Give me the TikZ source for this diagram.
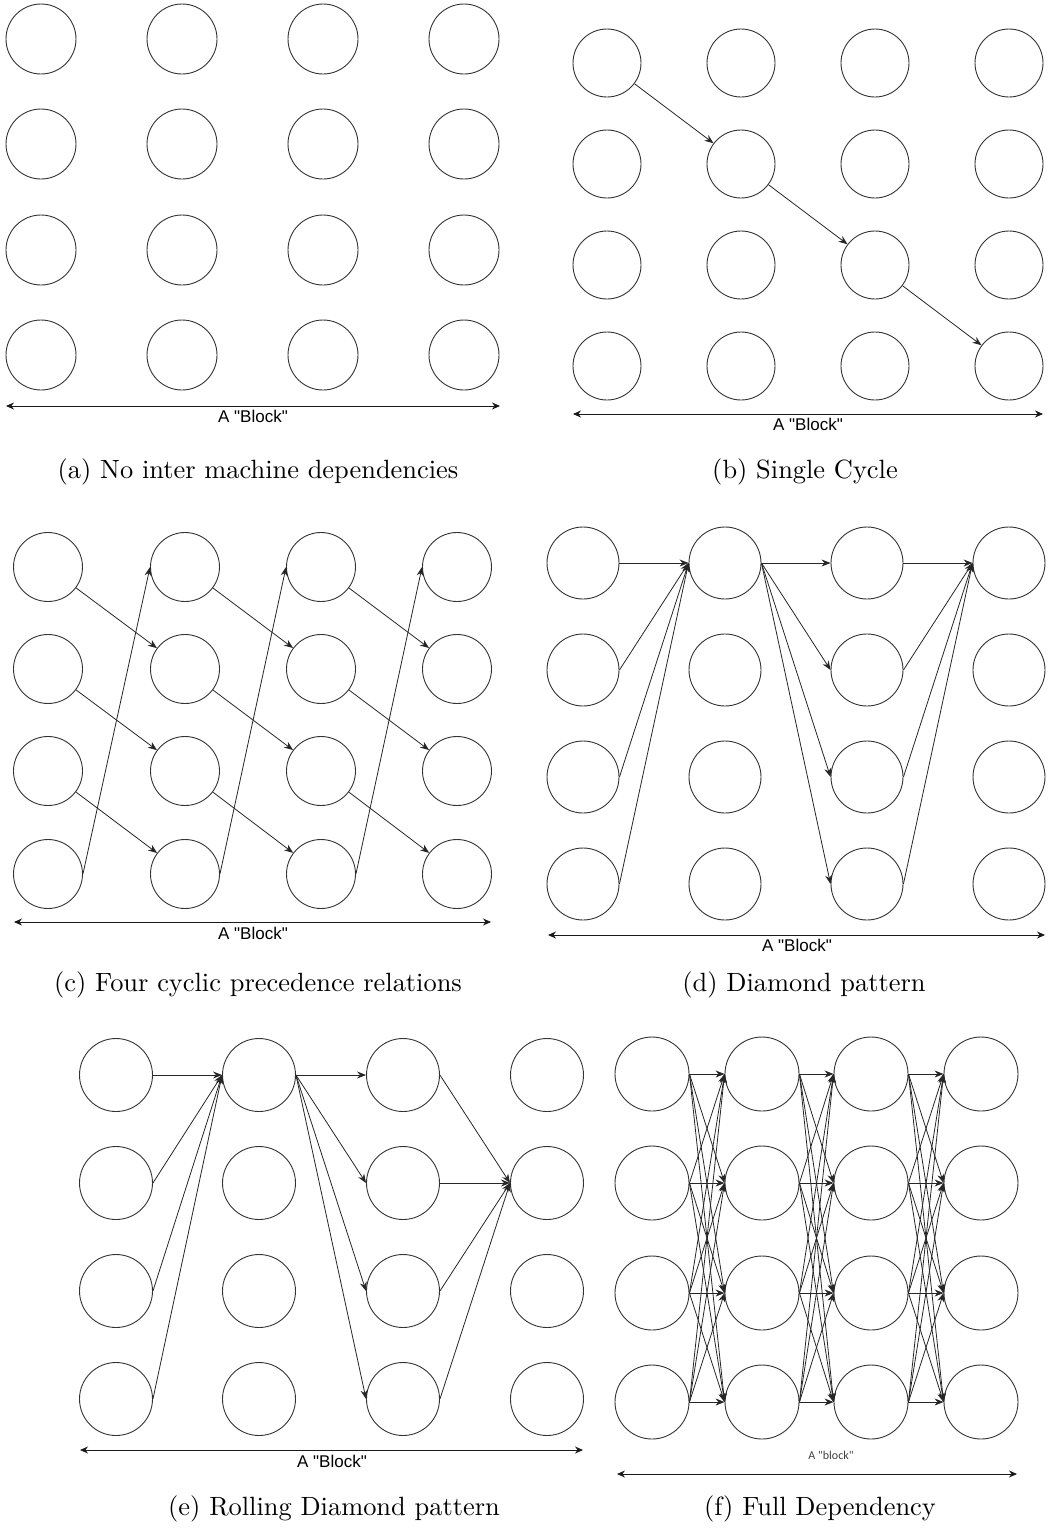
\documentclass[tikz,border=0pt]{standalone}
\usepackage{fontspec}
\newfontfamily\arialfont{Liberation Sans}
\newfontfamily\calfont{Carlito}
\newfontfamily\capfont{lmroman10-regular.otf}
\usetikzlibrary{arrows.meta}
\begin{document}
\begin{tikzpicture}[x=1pt,y=-1pt,
  mach/.style={circle,draw=black!80,line width=0.9pt,inner sep=0pt,minimum size=#1},
  dep/.style={-{Stealth[length=9pt,width=7pt]},line width=0.8pt,draw=black!85},
  blockline/.style={{Stealth[length=8pt,width=7pt]}-{Stealth[length=8pt,width=7pt]},line width=0.9pt,draw=black!90},
  blocklabel/.style={font=\arialfont\fontsize{17}{20}\selectfont,inner sep=0pt},
  smalllabel/.style={font=\calfont\fontsize{12}{14}\selectfont,text=black!75,inner sep=0pt},
  caption/.style={font=\capfont\fontsize{26.4}{30}\selectfont,inner sep=0pt}]
\useasboundingbox (0,0) rectangle (1049,1529);

% ---------- (a) ----------
\foreach \c/\x in {0/41,1/182,2/323,3/464}
  \foreach \r/\y in {0/39,1/144,2/250,3/355}
    \node[mach=70pt] (a\r\c) at (\x,\y) {};
\coordinate (aL) at (6,406); \coordinate (aR) at (500,406);
\draw[blockline] (aL) -- (aR);
\node[blocklabel] (ablk) at (253,416) {A "Block"};
\node[caption] (acap) at (258,472) {(a) No inter machine dependencies};

% ---------- (b) ----------
\foreach \c/\x in {0/607,1/741,2/875,3/1009}
  \foreach \r/\y in {0/63,1/164,2/265,3/366}
    \node[mach=68pt] (b\r\c) at (\x,\y) {};
\draw[dep] (b00) -- (b11);
\draw[dep] (b11) -- (b22);
\draw[dep] (b22) -- (b33);
\coordinate (bL) at (573,414); \coordinate (bR) at (1043,414);
\draw[blockline] (bL) -- (bR);
\node[blocklabel] (bblk) at (808,424) {A "Block"};
\node[caption] (bcap) at (805,472) {(b) Single Cycle};

% ---------- (c) ----------
\foreach \c/\x in {0/48,1/185,2/321,3/457}
  \foreach \r/\y in {0/567,1/669,2/771,3/874}
    \node[mach=69pt] (c\r\c) at (\x,\y) {};
\foreach \c [evaluate=\c as \cn using int(\c+1)] in {0,1,2} {
  \foreach \r [evaluate=\r as \rn using int(\r+1)] in {0,1,2}
    \draw[dep] (c\r\c) -- (c\rn\cn);
  \draw[dep] (c3\c.east) -- (c0\cn.west);
}
\coordinate (cL) at (14,922); \coordinate (cR) at (491,922);
\draw[blockline] (cL) -- (cR);
\node[blocklabel] (cblk) at (253,933) {A "Block"};
\node[caption] (ccap) at (258,985) {(c) Four cyclic precedence relations};

% ---------- (d) ----------
\foreach \c/\x in {0/583,1/725,2/867,3/1009}
  \foreach \r/\y in {0/563,1/670,2/777,3/884}
    \node[mach=72pt] (d\r\c) at (\x,\y) {};
\foreach \r in {0,1,2,3} {
  \draw[dep] (d\r0.east) -- (d01.west);
  \draw[dep] (d01.east) -- (d\r2.west);
  \draw[dep] (d\r2.east) -- (d03.west);
}
\coordinate (dL) at (548,935); \coordinate (dR) at (1045,935);
\draw[blockline] (dL) -- (dR);
\node[blocklabel] (dblk) at (797,945) {A "Block"};
\node[caption] (dcap) at (804,985) {(d) Diamond pattern};

% ---------- (e) ----------
\foreach \c/\x in {0/116,1/259,2/403,3/547}
  \foreach \r/\y in {0/1075,1/1183,2/1291,3/1399}
    \node[mach=73pt] (e\r\c) at (\x,\y) {};
\foreach \r in {0,1,2,3} {
  \draw[dep] (e\r0.east) -- (e01.west);
  \draw[dep] (e01.east) -- (e\r2.west);
  \draw[dep] (e\r2.east) -- (e13.west);
}
\coordinate (eL) at (80,1450); \coordinate (eR) at (583,1450);
\draw[blockline] (eL) -- (eR);
\node[blocklabel] (eblk) at (332,1461) {A "Block"};
\node[caption] (ecap) at (334,1509) {(e) Rolling Diamond pattern};

% ---------- (f) ----------
\foreach \c/\x in {0/652,1/762,2/871,3/981}
  \foreach \r/\y in {0/1074,1/1183,2/1293,3/1402}
    \node[mach=74pt] (f\r\c) at (\x,\y) {};
\foreach \c [evaluate=\c as \cn using int(\c+1)] in {0,1,2}
  \foreach \r in {0,1,2,3}
    \foreach \s in {0,1,2,3}
      \draw[dep] (f\r\c.east) -- (f\s\cn.west);
\coordinate (fL) at (617,1474); \coordinate (fR) at (1017,1474);
\draw[blockline] (fL) -- (fR);
\node[smalllabel] (fblk) at (831,1455) {A "block"};
\node[caption] (fcap) at (820,1509) {(f) Full Dependency};
\end{tikzpicture}
\end{document}
